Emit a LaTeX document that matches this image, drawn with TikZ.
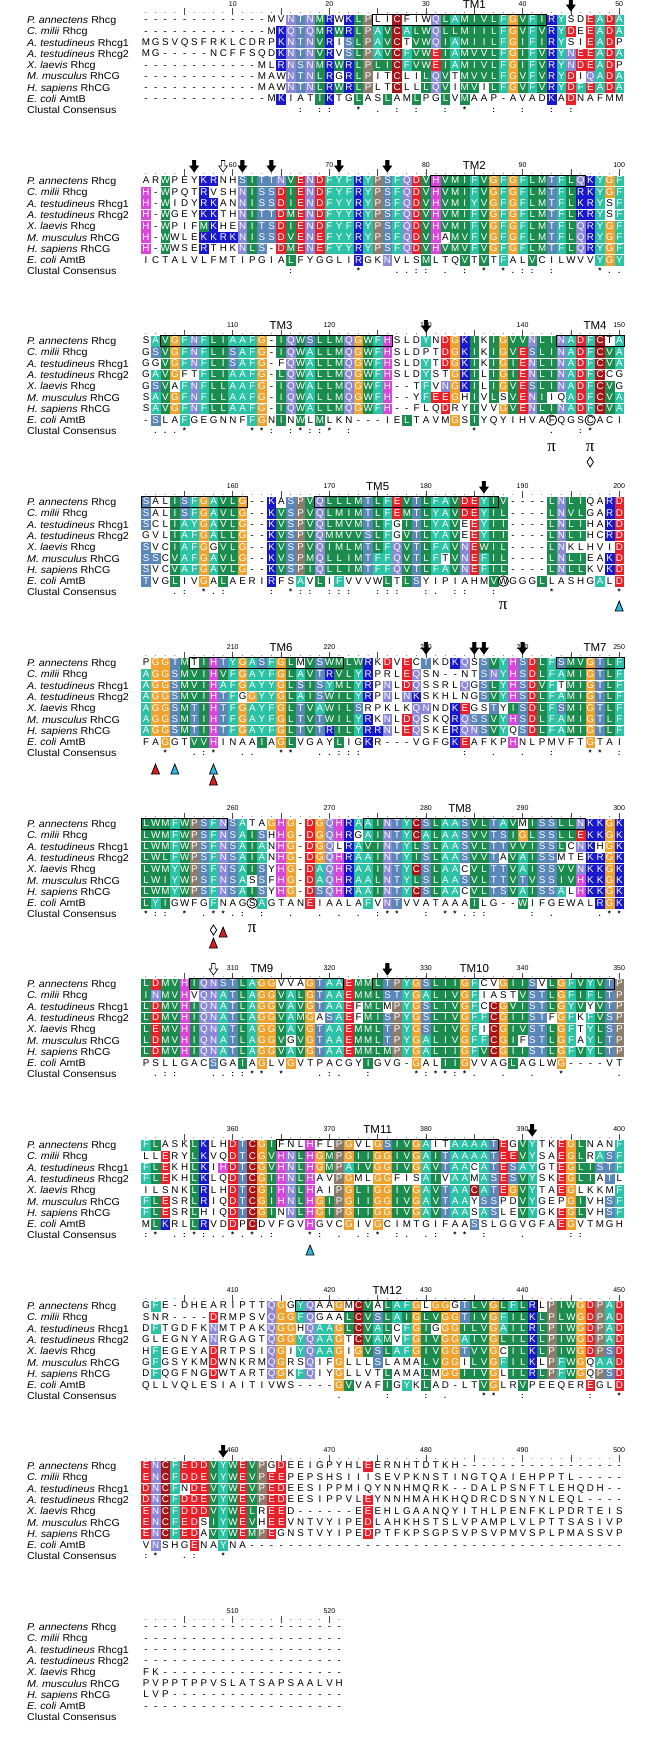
\documentclass[tikz,border=0pt]{standalone}
\usepackage{fontspec}
\usepackage{graphicx}
\setmainfont{Liberation Sans}
\newfontfamily\pifont{Liberation Serif}
\definecolor{cHyd}{HTML}{1C8C4E}
\definecolor{cAro}{HTML}{2CC2A6}
\definecolor{cHis}{HTML}{D946D9}
\definecolor{cGly}{HTML}{EFA22E}
\definecolor{cPro}{HTML}{8C7C6C}
\definecolor{cAcid}{HTML}{E8202A}
\definecolor{cBase}{HTML}{1818CC}
\definecolor{cAmide}{HTML}{8C88D8}
\definecolor{cOH}{HTML}{5A86B8}
\definecolor{cCys}{HTML}{A81418}
\definecolor{triRed}{HTML}{D42020}
\definecolor{triCyan}{HTML}{30B4E0}
\setlength{\fboxsep}{0pt}
\def\defres#1#2{\expandafter\def\csname rc@#1\endcsname{#2}}
\defres{L}{cHyd}\defres{I}{cHyd}\defres{V}{cHyd}\defres{M}{cHyd}\defres{W}{cHyd}
\defres{A}{cAro}\defres{F}{cAro}\defres{Y}{cAro}
\defres{H}{cHis}\defres{G}{cGly}\defres{P}{cPro}
\defres{D}{cAcid}\defres{E}{cAcid}\defres{K}{cBase}\defres{R}{cBase}
\defres{N}{cAmide}\defres{Q}{cAmide}\defres{S}{cOH}\defres{T}{cOH}\defres{C}{cCys}
\def\strutres{\rule[-2.6pt]{0pt}{10.6pt}}
\def\seqloop#1{\ifx\relax#1\expandafter\seqend\else\expandafter\seqstep\fi{#1}}
\def\seqend#1{}
\def\seqstep#1{\putres{#1}\seqloop}
\def\putres#1{\uppercase{\def\rlet{#1}}%
  \ifcsname rc@#1\endcsname
    \edef\rcol{\csname rc@#1\endcsname}%
    \colorbox{\rcol}{\makebox[9.66pt]{\strutres\textcolor{white}{\rlet}}}%
  \else
    \makebox[9.66pt]{\strutres\rlet}%
  \fi}
\newcommand\lbl[1]{\scalebox{1.07}[1]{#1}}
\tikzset{
 rowtext/.style={anchor=base west, inner sep=0pt, font=\fontsize{9.8}{9.8}\selectfont},
 lab/.style={anchor=west, inner sep=0pt, text height=7pt, text depth=0pt, font=\fontsize{10}{10}\selectfont},
 numlab/.style={inner sep=0pt, font=\fontsize{7}{7}\selectfont},
 tmtext/.style={inner sep=0pt, font=\fontsize{11.5}{11.5}\selectfont},
 conssym/.style={inner sep=0pt, anchor=base, font=\fontsize{8}{8}\selectfont\bfseries},
 tmframe/.style={draw=black, line width=0.9pt},
 pitext/.style={inner sep=0pt, font=\fontsize{17}{17}\pifont},
}
\newcommand\sq[4]{\node[rowtext] (b#1r#2) at (141,{-(#3+11.3*(#2-1))-2.9}) {\seqloop#4\relax};}
\newcommand\labels[2]{%
 \node[lab] (b#1l1) at (27,{-(#2)}) {\lbl{\textit{P. annectens} Rhcg}};
 \node[lab] (b#1l2) at (27,{-(#2+11.3)}) {\lbl{\textit{C. milii} Rhcg}};
 \node[lab] (b#1l3) at (27,{-(#2+22.6)}) {\lbl{\textit{A. testudineus} Rhcg1}};
 \node[lab] (b#1l4) at (27,{-(#2+33.9)}) {\lbl{\textit{A. testudineus} Rhcg2}};
 \node[lab] (b#1l5) at (27,{-(#2+45.2)}) {\lbl{\textit{X. laevis} Rhcg}};
 \node[lab] (b#1l6) at (27,{-(#2+56.5)}) {\lbl{\textit{M. musculus} RhCG}};
 \node[lab] (b#1l7) at (27,{-(#2+67.8)}) {\lbl{\textit{H. sapiens} RhCG}};
 \node[lab] (b#1l8) at (27,{-(#2+79.1)}) {\lbl{\textit{E. coli} AmtB}};
 \node[lab] (b#1l9) at (27,{-(#2+90.4)}) {\lbl{Clustal Consensus}};}
\newcommand\ruler[4]{%
 \fill[black!60] \foreach \c in {1,...,#4}{ ({136.17+9.66*\c},{-(#2-7.5)}) circle (0.5) };
 \draw[line width=0.6pt,black!70] \foreach \c in {5,10,...,#4}{ ({136.17+9.66*\c},{-(#2-11.5)}) -- ++(0,-7) };
 \foreach \c in {10,20,...,#4}{\pgfmathtruncatemacro\nn{#3+\c-1}\node[numlab] (b#1n\c) at ({136.17+9.66*\c},{-(#2-16)}) {\nn};}}
\newcommand\tmbox[3]{\draw[tmframe] ({141+9.66*(#2-1)},{-(#1-5.6)}) rectangle ({141+9.66*#3},{-(#1+5.6)});}
\newcommand\tmlab[4]{\node[tmtext] (#4) at ({136.17+9.66*#2},{-(#1-15.5)}) {#3};}
\newcommand\arrowdn[3]{%
 \pgfmathsetmacro\arX{136.17+9.66*#3}\pgfmathsetmacro\arY{-(#2-20.5)}%
 \draw[line width=0.6pt, fill=#1] (\arX-1.7,\arY) -- (\arX+1.7,\arY) -- (\arX+1.7,\arY-5.5) -- (\arX+4.3,\arY-5.5) -- (\arX,\arY-11.5) -- (\arX-4.3,\arY-5.5) -- (\arX-1.7,\arY-5.5) -- cycle;}
\newcommand\cons[3]{\foreach \cc/\ss in {#3}{\node[conssym] (b#1k\cc) at ({136.17+9.66*\cc},{-(#2+92.9)}) {\ss};}}
\newcommand\tri[3]{\draw[line width=0.7pt, fill=#1] ({136.17+9.66*#2-4},{-(#3)-5}) -- ({136.17+9.66*#2+4},{-(#3)-5}) -- ({136.17+9.66*#2},{-(#3)+5}) -- cycle;}
\newcommand\dia[2]{\draw[line width=0.8pt, fill=white] ({136.17+9.66*#1},{-(#2)+5}) -- ++(3.2,-5) -- ++(-3.2,-5) -- ++(-3.2,5) -- cycle;}
\newcommand\ringmark[2]{\draw[line width=0.8pt] ({136.17+9.66*#1},{-(#2+79.1)}) circle (5.2);}
\newcommand\pimark[3]{\node[pitext] (#3) at ({136.17+9.66*#1},{-(#2)}) {π};}
\begin{document}
\begin{tikzpicture}[x=1pt,y=1pt]
\useasboundingbox (0,0) rectangle (650,-1739);
\fill[white] (0,0) rectangle (650,-1739);
% ---------------- Block 1 (1-50)
\labels{1}{20}\ruler{1}{20}{1}{50}
\sq{1}{1}{20}{-------------mvNTNMRwKLPliCfiwQLAMIVLFGVFIRYsdEADA}
\sq{1}{2}{20}{-------------mKQTQMRWRLPAVCALWQLLMIILFGVFVRYDeEADA}
\sq{1}{3}{20}{mgsvqsfrklcdrpKNTNVRiSLPAVCtVWQIAMIILFGIFIRYsiEADp}
\sq{1}{4}{20}{mg-----ncffsqdKNTNVRvSLPAVCFVWEIAMVVLFGIFVRYNEEADA}
\sq{1}{5}{20}{------------mlRNSNMRWRLPLICFVWEIAMIVLFGIFVRYNDEADp}
\sq{1}{6}{20}{------------mawNTNLRgRLPitCliLQVtMVVLFGVFVRYDiQADA}
\sq{1}{7}{20}{------------mawNTNLRWRLPltCllLQViMViLFGVFVRYDFEADA}
\sq{1}{8}{20}{-------------mKiatIKtgLasLamLpgLvMaap-avadKaDnafmm}
\tmbox{20}{25}{42}\tmlab{20}{35}{TM1}{tm1}
\arrowdn{black}{20}{45}
\cons{1}{20}{17/:,19/:,20/:,23/*,25/.,27/:,29/:,32/:,34/*,37/:,40/:,43/:,45/:}
% ---------------- Block 2 (51-100)
\labels{2}{181}\ruler{2}{181}{51}{50}
\sq{2}{1}{181}{arWpeyKRnhSITTNVENDFYFRYPSFQDVHVMIFVGFGFLMTFLQKYGF}
\sq{2}{2}{181}{H-WpqtRvshNISSDIENDFYFRYPSFQDVHVMIFVGFGFLMTFLRKYGF}
\sq{2}{3}{181}{H-WidyRKanNISSDIENDFYYRYPSFQDVHVMIYVGFGFLMTFLKRYsF}
\sq{2}{4}{181}{H-WgeyKKthNITTDMENDFYYRYPSFQDVHVMIFVGFGFLMTFLKRYsF}
\sq{2}{5}{181}{H-WpifMKheNITSDIENDFYFRYPSFQDVHVMIFVGFGFLMTFLQRYGF}
\sq{2}{6}{181}{H-WwleKKRKNISSDVENEFYYRYPSFQDVHaMVFVGFGFLMTFLQRYGF}
\sq{2}{7}{181}{H-WwseRthkNLS-DMENEFYYRYPSFQDVHVMVFVGFGFLMTFLQRYGF}
\sq{2}{8}{181}{ictalvlfmtipgiaLfyggliRgkNvlsMltqVtVtFalVcilwvvYGY}
\tmbox{181}{31}{46}\tmlab{181}{35}{TM2}{tm2}
\foreach \a in {6,11,14,21,26}{\arrowdn{black}{181}{\a}}
\arrowdn{white}{181}{9}
\cons{2}{181}{16/:,23/*,27/.,28/.,29/:,30/:,32/.,34/:,36/*,38/*,39/.,40/:,41/:,43/:,48/*,49/.,50/.}
% ---------------- Block 3 (101-150)
\labels{3}{341}\ruler{3}{341}{101}{50}
\sq{3}{1}{341}{sAVGFNFLIAAFG-IQWSLLMQGWFHsldYnDGKIkIGVVNLINADFCtA}
\sq{3}{2}{341}{gSVGFNFLISAFG-IQWALLMQGWFHsldptDGKIkIGVESLINADFCVA}
\sq{3}{3}{341}{ggVGFNFLISAFG-fQWALLMQGWFHsldYtDGKIkIGIENLINADFCVA}
\sq{3}{4}{341}{gAVGftFLIAAFG-LQWALLMQGWFHsldYstGKIlIGIENLINADFCcg}
\sq{3}{5}{341}{gSVaFNFLLAAFG-IQWALLMQGWFH--tFvNGKIlIGVESLINADFCVg}
\sq{3}{6}{341}{sAVGFNFLLAAFG-IQWALLMQGWFH--yFEEGhIvLsVENIiqADFCVA}
\sq{3}{7}{341}{sAVGFNFLLAAFG-IQWALLMQGWFH--flqDryIvvGVENLINADFCVA}
\sq{3}{8}{341}{-SlaFgegnnfFGnInWlMlkn---ieLtavmGsIyqyihvafqgscaci}
\tmbox{341}{3}{26}\tmbox{341}{44}{50}
\tmlab{341}{15}{TM3}{tm3}\tmlab{341}{47.5}{TM4}{tm4}
\arrowdn{black}{341}{30}
\cons{3}{341}{2/.,3/.,4/.,5/*,12/*,13/*,14/:,16/:,17/*,18/:,19/:,20/*,22/:,35/*,43/.,46/:,47/*}
\ringmark{43}{341}\ringmark{47}{341}
\pimark{43}{448}{pi1}\pimark{47}{448}{pi2}\dia{47}{462}
% ---------------- Block 4 (151-200)
\labels{4}{502}\ruler{4}{502}{151}{50}
\sq{4}{1}{502}{SalISFGAVLG--KaSPVQLLLMTLFEVTLFAVDEYIV----LNLIqaRD}
\sq{4}{2}{502}{SalISFGAVLG--KVSPVQLMIMTLFEMTLYAVDEYIL----LNVLgaRD}
\sq{4}{3}{502}{SclIAYGAVLG--KVSPVQLMVMTLFgITLYAVeEYII----LNLIhaKD}
\sq{4}{4}{502}{gvlIAFGALLG--KVSPVQMMVVSLFgVTLYAVeEYII----LNLIhcRD}
\sq{4}{5}{502}{SvcIAFGgVLG--KVSPVQIMLMTLFQVTLFAVNEWIL----LNklhviD}
\sq{4}{6}{502}{SScVAFGAVLG--KVSPMQLLIMTFFQVTLFtVNEFIL----LNLIeaKD}
\sq{4}{7}{502}{SvcVAFGAVLG--KVSPIQLLIMTFFQVTLFAVNEFIL----LNLLkvKD}
\sq{4}{8}{502}{TvgLivGaLaeriRfsAvLiFvvvwLtLSyipiahmVwgggLlashgAlD}
\tmbox{502}{1}{11}\tmbox{502}{19}{37}
\tmlab{502}{25}{TM5}{tm5}
\arrowdn{black}{502}{36}
\cons{4}{502}{4/.,5/:,7/*,8/.,9/:,14/:,16/*,17/:,18/:,20/:,21/:,22/:,25/:,26/:,27/:,30/:,31/.,33/:,34/:,37/:,43/*,50/*}
\ringmark{38}{502}\pimark{38}{606}{pi3}
\tri{triCyan}{50}{606}
% ---------------- Block 5 (201-250)
\labels{5}{663}\ruler{5}{663}{201}{50}
\sq{5}{1}{663}{pGGTMtIHTYGASFGLmVSWMLWRkDvEcTkdKQsSVYHSDLFSMVGTLF}
\sq{5}{2}{663}{AGGSMVIHVFGAYFGLAVTRVLYRprlEQsn--ntSNYHSDLFAMIGTLF}
\sq{5}{3}{663}{AGGSMVIHAFGAYYGLSISYMLYRpNlDQssrlQgSLYHSDVFtMIGTLF}
\sq{5}{4}{663}{AGGSMVIHTFgGYYGLAISWILYRpNlNKskhlngSVYHSDLFAMIGTLF}
\sq{5}{5}{663}{AGGSMTIHTFGAYFGLTVAWILSrpklkQNndKEgsTyISDLFSMIGTLF}
\sq{5}{6}{663}{AGGSMTIHTFGAYFGLTVTWILYRkNlDQskqRQSSVYHSDLFAMIGTLF}
\sq{5}{7}{663}{AGGSMTIHTFGAYFGLTVTRILYRRNlEQskeRQNSVYqSDLFAMIGTLF}
\sq{5}{8}{663}{faGgtVVHinaaIaGLvgayLigKr---vgfgKEafkpHnlpmvftGtai}
\tmbox{663}{6}{21}\tmbox{663}{44}{50}
\tmlab{663}{15}{TM6}{tm6}\tmlab{663}{47.5}{TM7}{tm7}
\foreach \a in {30,35,36,40}{\arrowdn{black}{663}{\a}}
\cons{5}{663}{3/*,6/.,7/:,8/*,11/.,12/.,15/*,16/*,19/.,20/.,21/:,22/:,23/:,34/:,37/.,40/.,43/:,47/*,48/*,50/:}
\tri{triRed}{2}{769}\tri{triCyan}{4}{769}\tri{triRed}{8}{780}\tri{triCyan}{8}{769}
% ---------------- Block 6 (251-300)
\labels{6}{824}\ruler{6}{824}{251}{50}
\sq{6}{1}{824}{LWMFWPSFNSAtaGHG-DGQHRAAINTYCSLAASVLTAVmISSLLNKKGK}
\sq{6}{2}{824}{LWMFWPSFNSAIShHG-DGQHRgAINTYCALAASVVTSIGLSSLLEKKGK}
\sq{6}{3}{824}{LWMFWPSFNSAIAnHG-DGQlRAVINTYLSLAASVLTTVVISSLcNKhGK}
\sq{6}{4}{824}{LWLFWPSFNSAIAnHG-DGQHRAAINTYISLAASVVTaVAISSmteKRGK}
\sq{6}{5}{824}{LWMYWPSFNSAISyHG-DAQHRAAINTYCSLAAcVLTTVAISSVVNKKGK}
\sq{6}{6}{824}{LWIYWPSFNSAsSfHG-DAQHRAALNTYLSLAASVLTTVTVSSIVHKKGK}
\sq{6}{7}{824}{LWMYWPSFNSAISyHG-DSQHRAAINTYCSLAAcVLTSVAISSAlHKKGK}
\sq{6}{8}{824}{LYIgwfgFnagsAgtanEiaalaFvNTvvataaaIlg--WifgewalRGK}
\tmbox{824}{1}{9}\tmbox{824}{24}{46}
\tmlab{824}{33.5}{TM8}{tm8}
\cons{6}{824}{1/*,2/:,3/:,5/*,7/.,8/*,9/*,10/.,11/:,13/:,16/.,19/.,21/.,23/.,25/:,26/*,27/*,30/:,32/*,33/*,34/.,35/:,36/:,41/:,43/.,48/.,49/*,50/*}
\ringmark{12}{824}\pimark{12}{929}{pi4}
\dia{8}{930}\tri{triRed}{9}{932}\tri{triRed}{8}{943}
% ---------------- Block 7 (301-350)
\labels{7}{984}\ruler{7}{984}{301}{50}
\sq{7}{1}{984}{LDMVHIQNSTLAGGvvaGTAAEMMLTPYGSLIIGFcvGIISvLGFVYVTP}
\sq{7}{2}{984}{INMVHvQNATLAGGVALGTAAEMMLSTYGALIVGFiastVSTLGFIFLTP}
\sq{7}{3}{984}{LDMVHIQNATLAGGVAVGTAAEfMLmPYGSLIVGFcCGVISTLGYVyVTP}
\sq{7}{4}{984}{LDMVHIQNATLAGGVAMGaSAEfMISPYGSLIVGFFCGIISTfGFkFVSP}
\sq{7}{5}{984}{LEMVHIQNATLAGGVAVGTAAEMMLTPYGSLIVGFiCGIVSTLGFtYLSP}
\sq{7}{6}{984}{LDMVHIQNATLAGGVgVGTAAEMMLTPYGALIVGFFCGIfSTLGFaYLTP}
\sq{7}{7}{984}{LDMVHIQNATLAGGVAVGTAAEMMLMPYGALIIGFVCGIISTLGFVYLTP}
\sq{7}{8}{984}{psllgacSgaIaGlvGvtpacgyIgvg-GalIIGvvagLaglwG----vt}
\tmbox{984}{6}{21}\tmbox{984}{25}{49}
\tmlab{984}{13}{TM9}{tm9}\tmlab{984}{35}{TM10}{tm10}
\arrowdn{white}{984}{8}\arrowdn{black}{984}{26}
\cons{7}{984}{2/.,3/:,4/:,8/.,9/.,10/:,11/:,12/*,13/*,15/*,19/.,20/:,21/.,24/:,29/*,30/:,31/*,32/*,33/:,34/*,35/.,38/.,41/.,44/*,50/.}
% ---------------- Block 8 (351-400)
\labels{8}{1145}\ruler{8}{1145}{351}{50}
\sq{8}{1}{1145}{FLaskLKlhDTCGIfnlHflPGvlGSIVGAitAAAATEgVYtkEGLnanF}
\sq{8}{2}{1145}{llEryLKvqDTCGVHNLHGMPGIIGGIVGAITAAAATEEVYsaEGLrASF}
\sq{8}{3}{1145}{FLEkhLKiHDTCGVHNLHGMPAIVGGIVGAVTAAcATESAYgtEGLISTF}
\sq{8}{4}{1145}{FLEkhLKlqDTCGIHNLHavPGmlGGfisAIvAAmASESVYskEGLIaTl}
\sq{8}{5}{1145}{ilsnkLRlhDTCGIHNLHaiPGLIGGIVGAVTAACATEGVYtaEGlkkmF}
\sq{8}{6}{1145}{FLEsrLRiqDTCGIHNLHGIPGIIGGIVGAVTAAySSpdVYgepGIvhSF}
\sq{8}{7}{1145}{FLEsrLhiqDTCGInNLHGIPGIIGGIVGAVTAAsASleVYgkEGLvhSF}
\sq{8}{8}{1145}{mLKrlLRvdDpCdvfgvHgvcGivGcimtgifaaSslggvgfaEGvtmgh}
\tmbox{1145}{15}{37}
\tmlab{1145}{25}{TM11}{tm11}
\arrowdn{black}{1145}{41}
\cons{8}{1145}{1/:,2/*,4/.,5/:,6/*,7/:,8/.,9/.,10/*,11/.,12/*,13/.,14/:,18/*,19/:,21/.,23/.,24/:,25/*,27/:,28/.,30/.,31/:,33/*,34/*,36/:,40/.,45/:,46/:}
\tri{triCyan}{18}{1250}
% ---------------- Block 9 (401-450)
\labels{9}{1306}\ruler{9}{1306}{401}{50}
\sq{9}{1}{1306}{gFe-dhearipttQGgYQaaGmCVaLAFGlGGgTLVGLFLRlPIWGDPAD}
\sq{9}{2}{1306}{snr----DrmpsvQGGFQgaaLCVSLAIGLVGGTIVGFILKLPLWGDPAD}
\sq{9}{3}{1306}{dFtgdfkNmtpakQGGhQAAGLCVALcFGIgGGILVGAILRLPIWGDPAD}
\sq{9}{4}{1306}{glegnyaNrgagtQGGYQAAGtCVAMvFGIVGGAIVGLILKLPIWGDPAD}
\sq{9}{5}{1306}{hFegeyaDrtpsiQGiYQAAGiGVSLAFGIVGGTVVGcILKLPIWGDPSD}
\sq{9}{6}{1306}{gFgsykmDwnkrmQGrsQifGlllSlamaLVGGiLVGFILKlPFWGqAAD}
\sq{9}{7}{1306}{dFqgfngDwtartQGkFQiyGllvtLamaLmGGIIVGlILRLPFWGqPSD}
\sq{9}{8}{1306}{qllvqlesiaitivws----GVvafIgYkLad-ltVGlrVpeeqerEglD}
\tmbox{1306}{17}{41}
\tmlab{1306}{26}{TM12}{tm12}
\cons{9}{1306}{21/.,26/:,30/:,32/.,36/*,37/*,40/:,47/:,50/*}
% ---------------- Block 10 (451-500)
\labels{10}{1466}\ruler{10}{1466}{451}{50}
\sq{10}{1}{1466}{ENCFEDDVYWEVPgDeeigpyhlEernhtdtkh-----------------}
\sq{10}{2}{1466}{ENCFDDEVYWEVPEEpepshsiiisevpknstingtqaiehpptl-----}
\sq{10}{3}{1466}{DNCFnDEVYWEVPEDeesippmiqynnhmqrk--dalpsnftlehqdh--}
\sq{10}{4}{1466}{DNCFDDEVYWEVPEDeesippvlEynnhmahkhqdrcdsnynleql----}
\sq{10}{5}{1466}{ENCFDDDVYWELrEEd------eEehlgaanqyithlpenfklpdrteis}
\sq{10}{6}{1466}{ENCFEDsIYWEVhEEvntvyipeDlahkhstslvpamplvlpttsasivp}
\sq{10}{7}{1466}{ENCFEDaVYWEMPEgnstvyipeDptfkpsgpsvpsvpmvsplpmassvp}
\sq{10}{8}{1466}{vNshgEnaYna---------------------------------------}
\arrowdn{black}{1466}{9}
\cons{10}{1466}{1/:,2/*,5/.,6/:,9/*}
% ---------------- Block 11 (501-521)
\labels{11}{1627}\ruler{11}{1627}{501}{21}
\sq{11}{1}{1627}{---------------------}
\sq{11}{2}{1627}{---------------------}
\sq{11}{3}{1627}{---------------------}
\sq{11}{4}{1627}{---------------------}
\sq{11}{5}{1627}{fk-------------------}
\sq{11}{6}{1627}{pvpptppvslatsapsaalvh}
\sq{11}{7}{1627}{lvp------------------}
\sq{11}{8}{1627}{---------------------}
\end{tikzpicture}
\end{document}
